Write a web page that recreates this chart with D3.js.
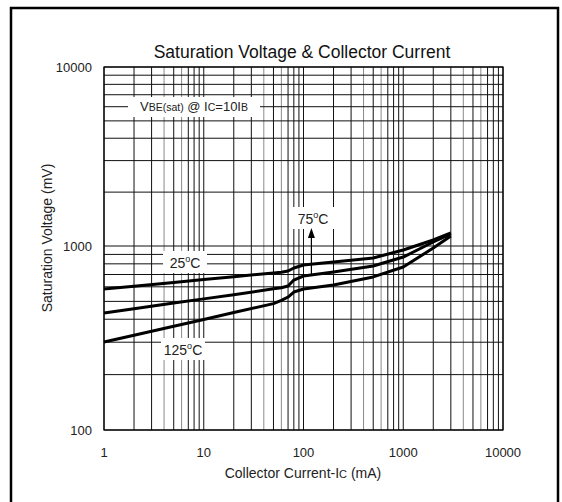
<!DOCTYPE html>
<html><head><meta charset="utf-8">
<script src="https://cdn.jsdelivr.net/npm/d3@7"></script>
<style>
html,body{margin:0;padding:0;background:#fff;}
svg{display:block;font-family:"Liberation Sans",Arial,sans-serif;}
</style></head>
<body>
<svg id="chart" width="562" height="502"></svg>
<script>
// ---- data ----
const currents = [1, 2, 5, 10, 20, 50, 60, 70, 80, 100, 200, 500, 1000, 2000, 3000];
const v25  = [584, 605, 634, 658, 681, 714, 720, 731, 759, 788, 818, 861, 951, 1080, 1182];
const v75  = [432, 456, 490, 516, 544, 585, 593, 606, 653, 687, 722, 778, 871, 1053, 1170];
const v125 = [301, 327, 366, 399, 435, 486, 506, 528, 562, 584, 614, 679, 769, 975, 1137];
const xTickLabels = [1, 10, 100, 1000, 10000];
const yTickLabels = [100, 1000, 10000];
const seriesNames = ["25°C", "75°C", "125°C"];

// ---- layout ----
const svg = d3.select("#chart");
const L = 104, R = 503, T = 67, B = 430, MID = 246;
const x = d3.scaleLog().domain([1, 10000]).range([L, R]);
const y = d3.scaleLog().domain([100, 1000, 10000]).range([B, MID, T]);

// outer frame
svg.append("rect").attr("x", 11).attr("y", 8).attr("width", 547).attr("height", 510)
  .attr("fill", "none").attr("stroke", "#000").attr("stroke-width", 2.5);

// grid
const g = svg.append("g");
const grayX = new Set([4, 6]);
x.ticks().forEach(t => {
  const m = Math.round(t / Math.pow(10, Math.floor(Math.log10(t) + 1e-9)));
  g.append("line").attr("x1", x(t)).attr("x2", x(t)).attr("y1", T).attr("y2", B)
    .attr("stroke", grayX.has(m) ? "#8a8a8a" : "#111").attr("stroke-width", 1);
});
y.ticks().forEach(t => {
  g.append("line").attr("x1", L).attr("x2", R).attr("y1", y(t)).attr("y2", y(t))
    .attr("stroke", "#111").attr("stroke-width", 1);
});
svg.append("rect").attr("x", L).attr("y", T).attr("width", R - L).attr("height", B - T)
  .attr("fill", "none").attr("stroke", "#000").attr("stroke-width", 1.2);

// tick labels
svg.selectAll(".xl").data(xTickLabels).enter().append("text")
  .attr("x", d => x(d)).attr("y", B + 27).attr("text-anchor", "middle")
  .attr("font-size", 13).attr("fill", "#222").text(d => d);
svg.selectAll(".yl").data(yTickLabels).enter().append("text")
  .attr("x", L - 12).attr("y", d => y(d) + 5).attr("text-anchor", "end")
  .attr("font-size", 13).attr("fill", "#222").text(d => d);

// titles
svg.append("text").attr("x", 302).attr("y", 58).attr("text-anchor", "middle")
  .attr("font-size", 17.5).attr("fill", "#111").text("Saturation Voltage & Collector Current");
const xt = svg.append("text").attr("x", 303).attr("y", 478).attr("text-anchor", "middle")
  .attr("font-size", 14).attr("fill", "#222");
xt.append("tspan").text("Collector Current-I");
xt.append("tspan").attr("font-size", 11).text("C");
xt.append("tspan").text(" (mA)");
svg.append("text").attr("transform", "translate(52,238) rotate(-90)").attr("text-anchor", "middle")
  .attr("font-size", 14).attr("fill", "#222").text("Saturation Voltage  (mV)");

// condition label box
svg.append("rect").attr("x", 128).attr("y", 97).attr("width", 132).attr("height", 20).attr("fill", "#fff");
const ct = svg.append("text").attr("x", 194).attr("y", 111).attr("text-anchor", "middle")
  .attr("font-size", 13).attr("fill", "#222");
ct.append("tspan").text("V");
ct.append("tspan").attr("font-size", 10.5).text("BE(sat)");
ct.append("tspan").text(" @ I");
ct.append("tspan").attr("font-size", 10.5).text("C");
ct.append("tspan").text("=10I");
ct.append("tspan").attr("font-size", 10.5).text("B");

// curves
const line = d3.line().x(d => x(d[0])).y(d => y(d[1]));
[v25, v75, v125].forEach(vals => {
  svg.append("path").datum(currents.map((c, i) => [c, vals[i]]))
    .attr("d", line).attr("fill", "none").attr("stroke", "#000")
    .attr("stroke-width", 3).attr("stroke-linejoin", "round");
});

// annotations
function tempLabel(cx, cy, txt) {
  const num = txt.replace("°C", "");
  svg.append("rect").attr("x", cx - 22).attr("y", cy - 12).attr("width", 44).attr("height", 22).attr("fill", "#fff");
  const t = svg.append("text").attr("x", cx).attr("y", cy + 5).attr("text-anchor", "middle")
    .attr("font-size", 14).attr("fill", "#222");
  t.append("tspan").text(num);
  t.append("tspan").attr("font-size", 9).attr("dy", -6).text("o");
  t.append("tspan").attr("dy", 6).text("C");
}
tempLabel(185, 263, seriesNames[0]);
tempLabel(183, 350, seriesNames[2]);
tempLabel(313, 219, seriesNames[1]);

// arrow for 75°C
const ax = x(120);
const ay = y(d3.scaleLog().domain([100, 200]).range([687, 722])(120));
svg.append("line").attr("x1", ax).attr("x2", ax).attr("y1", 236).attr("y2", ay)
  .attr("stroke", "#000").attr("stroke-width", 1.2);
svg.append("path").attr("d", `M${ax},228 L${ax - 3.5},238 L${ax + 3.5},238 Z`).attr("fill", "#000");
</script>
</body></html>
